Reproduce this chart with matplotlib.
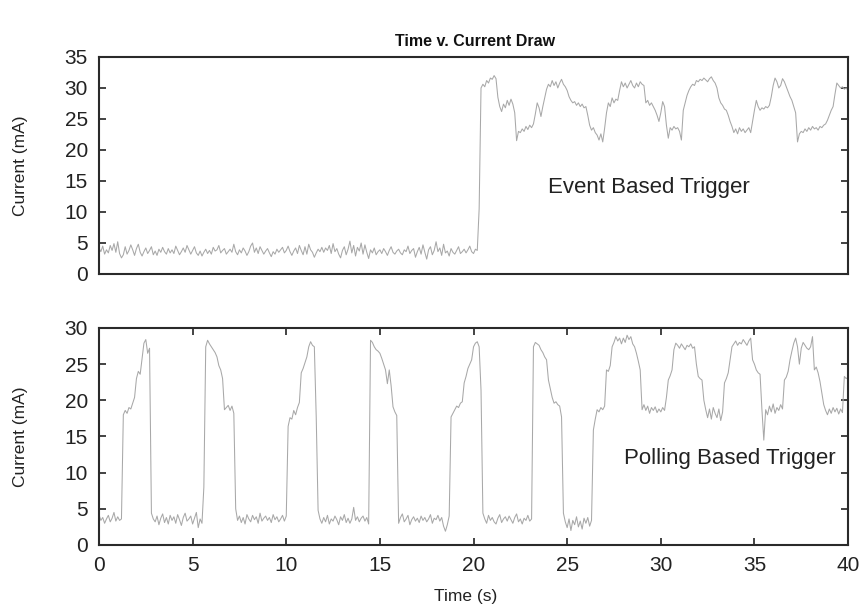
import numpy as np
import matplotlib
matplotlib.use("Agg")
import matplotlib.pyplot as plt

plt.rcParams['font.family'] = ['Liberation Sans', 'DejaVu Sans']

STEP = 0.1  # seconds between samples

# Event based trigger, one row per second (10 samples), last value at 40.0 s
event_ma = [
    4.2, 3.6, 4.5, 3.2, 3.9, 3.4, 4.6, 3.8, 4.9, 3.5,
    5.2, 3.3, 2.6, 3.1, 4.4, 3.2, 3.8, 4.7, 3.9, 3.0,
    4.1, 4.8, 3.5, 2.9, 3.6, 4.2, 3.3, 3.8, 4.4, 3.1,
    3.7, 3.0, 4.0, 3.5, 4.3, 3.6, 3.2, 4.1, 3.4, 3.9,
    3.3, 4.5, 3.8, 3.1, 3.6, 4.2, 3.5, 4.6, 3.9, 3.2,
    3.8, 4.4, 3.4, 3.0, 3.7, 2.9, 3.5, 4.0, 3.3, 3.8,
    3.2, 4.3, 3.7, 3.9, 4.6, 3.4, 3.8, 4.1, 3.2, 3.6,
    4.0, 3.5, 4.8, 3.6, 3.1, 3.9, 3.4, 4.2, 3.7, 3.0,
    3.6, 4.5, 5.0, 3.5, 4.2, 3.3, 4.4, 3.8, 3.2, 3.7,
    4.1, 3.4, 2.8, 3.6, 3.2, 4.0, 3.5, 3.9, 4.3, 3.4,
    3.8, 4.5, 3.6, 3.0, 3.7, 4.2, 3.3, 4.6, 3.8, 3.1,
    4.4, 3.2, 4.8, 3.9, 3.5, 2.7, 3.4, 4.0, 3.6, 4.3,
    3.5, 4.2, 3.8, 4.6, 3.3, 4.9, 3.6, 4.1, 3.2, 2.6,
    3.8, 4.4, 3.1, 4.0, 5.3, 3.4, 4.6, 2.9, 4.3, 3.7,
    5.0, 3.2, 4.7, 3.5, 2.5, 3.9, 3.4, 4.2, 3.1, 3.6,
    3.9, 3.3, 4.1, 3.6, 3.0, 3.8, 4.4, 3.5, 3.2, 3.7,
    4.0, 3.4, 3.1, 3.9, 3.6, 4.5, 3.3, 3.8, 4.1, 2.7,
    3.6, 4.3, 3.2, 4.7, 3.5, 2.4, 3.9, 4.4, 3.1, 3.8,
    5.2, 3.6, 4.2, 3.0, 4.8, 3.4, 3.7, 2.9, 4.1, 3.5,
    3.2, 3.8, 4.4, 3.3, 3.6, 4.0, 3.4, 3.9, 4.5, 3.6,
    3.3, 4.0, 3.8, 10.5, 30.0, 30.6, 30.2, 31.2, 30.8, 31.6,
    31.4, 32.0, 31.5, 28.5, 27.0, 26.2, 27.4, 26.8, 28.0, 27.2,
    28.2, 27.4, 26.0, 21.5, 23.0, 22.8, 23.4, 23.0, 23.8, 23.3,
    24.0, 23.6, 24.2, 25.8, 27.6, 26.8, 25.4, 27.0, 28.4, 29.8,
    30.6, 30.2, 31.2, 30.4, 31.0, 30.0, 30.8, 31.4, 30.6, 30.2,
    29.6, 28.6, 28.0, 27.6, 27.8, 27.2, 27.6, 27.0, 27.4, 26.8,
    27.0, 25.6, 24.0, 23.2, 23.6, 22.8, 22.4, 21.6, 22.6, 21.3,
    23.5, 26.0, 27.6, 27.0, 28.4, 27.6, 28.2, 28.0, 29.6, 31.0,
    30.2, 30.8, 30.0, 30.6, 31.2, 30.4, 30.0, 30.8, 30.2, 31.0,
    30.6, 30.4, 27.6, 28.0, 27.2, 27.6, 27.0, 26.4, 25.6, 24.6,
    26.0, 27.8, 27.0, 24.0, 21.9, 23.6, 23.2, 23.8, 23.4, 23.6,
    23.0, 21.6, 26.4, 27.6, 28.8, 29.6, 30.2, 30.6, 30.4, 31.2,
    31.0, 31.4, 31.2, 31.6, 31.3, 31.0, 31.5, 31.8, 31.2, 30.8,
    30.0, 28.4, 27.6, 27.2, 26.6, 26.4, 25.6, 24.6, 23.8, 22.8,
    23.4, 22.6, 23.6, 23.0, 23.4, 22.8, 23.2, 23.6, 22.8, 24.6,
    26.4, 28.0, 27.0, 26.4, 26.8, 26.6, 27.0, 26.8, 27.2, 28.6,
    30.4, 31.6, 31.0, 30.0, 30.4, 31.5, 31.0, 30.2, 29.4, 28.6,
    28.0, 27.0, 26.0, 21.3, 22.6, 23.0, 22.8, 23.4, 23.0, 23.6,
    23.2, 23.8, 23.4, 23.6, 23.2, 23.8, 23.6, 24.0, 24.2, 24.8,
    25.6, 26.4, 27.0, 29.0, 30.8, 30.4, 30.0, 30.2, 29.8, 30.0,
    29.6,
]

# Polling based trigger, same layout
polling_ma = [
    4.2, 3.4, 3.8, 3.0, 3.6, 4.1, 3.2, 3.7, 4.5, 3.3,
    3.9, 3.4, 3.6, 18.0, 18.6, 18.2, 19.0, 18.8, 19.6, 20.4,
    23.0, 24.0, 23.6, 25.8, 27.9, 28.4, 26.5, 27.2, 4.4, 3.6,
    3.2, 4.0, 2.8, 3.7, 4.3, 3.1, 3.8, 2.9, 4.1, 3.4,
    3.9, 3.0, 4.2, 3.5, 2.7, 3.8, 4.4, 3.3, 3.6, 4.0,
    2.9, 3.7, 4.5, 2.4, 3.6, 3.0, 8.0, 27.4, 28.3, 27.8,
    27.4, 27.0, 26.6, 26.0, 24.8, 24.2, 23.0, 18.7, 19.0, 19.3,
    18.6, 19.2, 18.2, 5.0, 3.4, 4.0, 3.1, 3.8, 2.9, 4.2,
    3.6, 3.2, 4.1, 3.5, 3.9, 3.0, 4.4, 3.3, 3.7, 4.0,
    3.4, 3.8, 3.1, 4.2, 3.5, 3.9, 3.2, 3.6, 4.1, 3.3,
    4.0, 16.4, 17.6, 17.4, 18.6, 18.0, 19.0, 19.7, 23.8, 24.4,
    25.2, 26.0, 27.4, 28.1, 27.6, 27.4, 17.7, 4.8, 3.6, 3.0,
    3.8, 3.2, 4.1, 2.9, 3.6, 3.3, 4.0, 3.5, 2.8, 3.9,
    3.4, 4.2, 3.1, 3.7, 3.0, 3.6, 5.2, 3.4, 3.9, 3.2,
    3.7, 4.0, 3.3, 3.8, 2.9, 28.3, 28.0, 27.4, 27.0, 26.8,
    26.5, 25.8, 25.0, 24.2, 22.3, 24.2, 22.0, 19.1, 18.4, 17.9,
    3.0, 3.8, 4.3, 3.2, 3.6, 4.1, 2.8, 3.5, 3.9, 3.3,
    3.7, 3.1, 4.0, 3.4, 3.8, 3.2, 3.6, 4.2, 3.0, 3.7,
    3.5, 4.1, 3.3, 3.8, 2.6, 1.9, 2.8, 4.0, 17.7, 18.2,
    18.7, 19.2, 19.0, 19.6, 19.8, 22.4, 23.3, 24.4, 25.0, 25.6,
    27.4, 27.9, 28.1, 27.4, 21.4, 4.4, 3.6, 3.0, 4.1, 3.4,
    3.8, 3.2, 2.9, 3.7, 4.2, 3.1, 3.6, 3.9, 3.3, 4.0,
    3.5, 3.0, 3.8, 4.3, 3.2, 3.6, 2.9, 3.7, 3.4, 4.1,
    3.3, 3.6, 27.4, 28.0, 27.8, 27.6, 27.0, 26.6, 26.0, 25.6,
    22.8, 21.6, 20.4, 19.6, 19.8, 19.4, 19.2, 17.7, 4.4, 3.2,
    2.4, 3.6, 2.0, 3.4, 2.8, 3.9, 2.5, 3.3, 2.2, 3.7,
    3.0, 3.8, 2.6, 3.4, 15.9, 17.4, 18.7, 18.4, 19.0, 18.7,
    19.2, 24.2, 24.0, 24.8, 27.4, 28.0, 28.8, 28.2, 28.6, 27.8,
    28.6, 28.0, 29.0, 28.4, 28.8, 27.8, 27.4, 26.5, 25.4, 24.2,
    18.7, 19.4, 18.6, 19.2, 18.2, 19.0, 18.6, 19.1, 18.3, 18.8,
    18.4, 19.0, 18.6, 20.4, 22.8, 23.4, 24.2, 27.0, 27.9, 27.6,
    27.2, 27.8, 27.4, 27.0, 27.6, 27.4, 27.8, 27.2, 27.4, 25.0,
    23.3, 23.0, 22.8, 20.0, 18.7, 17.6, 18.8, 17.4, 19.0, 18.2,
    17.6, 18.8, 17.2, 18.4, 22.4, 23.0, 23.8, 25.6, 27.4, 27.8,
    28.2, 27.6, 28.0, 27.8, 28.4, 28.0, 27.6, 28.2, 28.6, 25.6,
    25.0, 24.2, 23.8, 23.6, 18.7, 14.5, 18.7, 18.0, 19.2, 18.4,
    19.5, 18.2, 19.0, 18.6, 19.4, 18.8, 22.8, 23.2, 24.0, 25.6,
    26.8, 27.9, 28.6, 27.4, 25.0, 27.2, 28.0, 27.6, 27.2, 27.0,
    27.4, 28.8, 24.2, 24.6, 23.8, 22.6, 21.0, 19.4, 18.6, 18.0,
    18.8, 18.2, 19.0, 18.4, 18.9, 18.1, 18.8, 18.3, 23.3, 23.0,
    23.2,
]

t_event = np.arange(len(event_ma)) * STEP
t_poll = np.arange(len(polling_ma)) * STEP

line_col = '#a8a8a8'
spine_col = '#2a2a2a'
text_col = '#222222'

fig = plt.figure(figsize=(8.66, 6.12), dpi=100)
ax1 = fig.add_axes([0.1143, 0.5523, 0.865, 0.3546])
ax2 = fig.add_axes([0.1143, 0.1095, 0.865, 0.3546])

ax1.plot(t_event, event_ma, color=line_col, lw=0.75)
ax2.plot(t_poll, polling_ma, color=line_col, lw=0.75)

ax1.set_xlim(0, 40)
ax1.set_ylim(0, 35)
ax1.set_yticks(np.arange(0, 36, 5))
ax1.set_xticks([])
ax1.tick_params(axis='y', direction='in', left=True, right=True, length=5,
                width=1.2, pad=8, labelsize=15, colors=text_col)

ax2.set_xlim(0, 40)
ax2.set_ylim(0, 30)
ax2.set_yticks(np.arange(0, 31, 5))
ax2.set_xticks(np.arange(0, 41, 5))
ax2.tick_params(direction='in', left=True, right=True, top=True, bottom=True,
                length=5, width=1.2, pad=8, labelsize=15, colors=text_col)

for ax in (ax1, ax2):
    for s in ax.spines.values():
        s.set_color(spine_col)
        s.set_linewidth(1.5)
    ax.set_ylabel('Current (mA)', fontsize=12.5, color=text_col)
    ax.yaxis.set_label_coords(-0.095, 0.5)

ax2.set_xlabel('Time (s)', fontsize=12.5, color=text_col)
ax2.xaxis.set_label_coords(0.489, -0.203)

ax1.text(24.0, 14.0, 'Event Based Trigger', fontsize=16, va='center',
         color=text_col)
ax2.text(28.05, 11.9, 'Polling Based Trigger', fontsize=16, va='center',
         color=text_col)

fig.suptitle('Time v. Current Draw', x=0.548, y=0.945, fontsize=11.5,
             fontweight='bold', color='#111111')

fig.savefig('out.png', dpi=100)
